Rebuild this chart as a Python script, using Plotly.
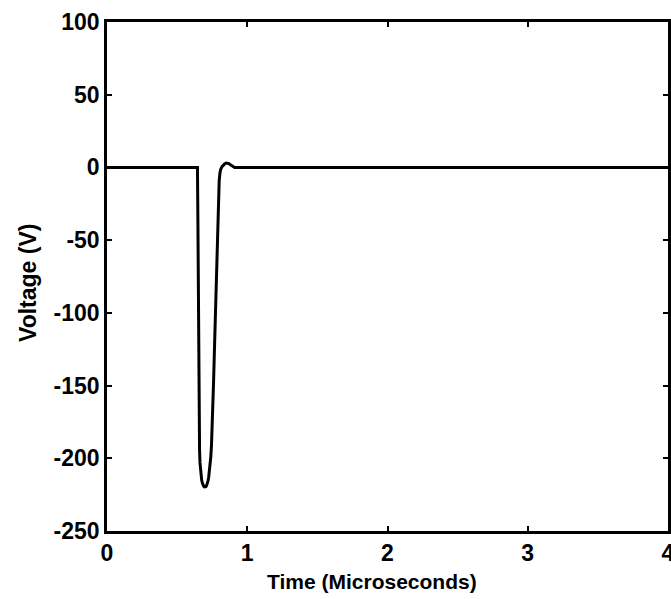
import plotly.graph_objects as go

# Time (microseconds) and voltage (V)
time_us = [0, 0.645, 0.648, 0.651, 0.654, 0.657, 0.66, 0.663, 0.666, 0.67, 0.675,
           0.68, 0.685, 0.69, 0.695, 0.70, 0.705, 0.71, 0.715, 0.72, 0.725,
           0.73, 0.735, 0.74, 0.745, 0.75, 0.755, 0.76, 0.765, 0.77, 0.775,
           0.78, 0.785, 0.79, 0.795, 0.80, 0.805, 0.81, 0.82, 0.83, 0.84,
           0.85, 0.86, 0.87, 0.88, 0.89, 0.90, 0.91, 1.0, 4.0]
voltage = [0, 0, -35, -95, -145, -178, -195, -203, -208, -212, -215,
           -217, -218.5, -219.3, -219.7, -219.8, -219.5, -218.8, -217.5, -215.5, -213,
           -209.5, -205, -199, -191, -179, -164, -147, -129, -110, -90,
           -70, -50, -32, -18, -9, -4, -1.5, 0.5, 1.8, 2.6,
           3, 3, 2.6, 1.8, 1, 0.4, 0, 0, 0]

x_ticks = [0, 1, 2, 3, 4]
y_ticks = [100, 50, 0, -50, -100, -150, -200, -250]

FONT = "Liberation Sans, Arial, sans-serif"

fig = go.Figure()
fig.add_trace(go.Scatter(x=time_us, y=voltage, mode="lines",
                         line=dict(color="black", width=3),
                         showlegend=False))

L, R, T, B = 107, 3, 22, 68
W, H = 671, 599
pw = W - L - R
ph = H - T - B

fig.update_layout(
    width=W, height=H,
    margin=dict(l=L, r=R, t=T, b=B, pad=0, autoexpand=False),
    paper_bgcolor="white", plot_bgcolor="white",
    font=dict(family=FONT, size=21, color="black", weight="bold"),
    xaxis=dict(range=[0, 4], tickvals=x_ticks, ticktext=[str(v) for v in x_ticks],
               showgrid=False, zeroline=False, showline=True, linecolor="black",
               linewidth=2.5, mirror="ticks", ticks="inside", ticklen=5,
               tickwidth=2, tickcolor="black", ticklabeloverflow="allow",
               automargin=False,
               tickfont=dict(size=23, weight="bold")),
    yaxis=dict(range=[-250, 100], tickvals=y_ticks, ticktext=[str(v) for v in y_ticks],
               showgrid=False, zeroline=False, showline=True, linecolor="black",
               linewidth=2.5, mirror="ticks", ticks="inside", ticklen=5,
               tickwidth=2, tickcolor="black", automargin=False,
               tickfont=dict(size=23, weight="bold")),
    annotations=[
        dict(text="Time (Microseconds)", xref="paper", yref="paper",
             x=(372 - L) / pw, y=(H - B - 582) / ph, xanchor="center",
             yanchor="middle", showarrow=False,
             font=dict(size=21, weight="bold")),
        dict(text="Voltage (V)", xref="paper", yref="paper",
             x=(28 - L) / pw, y=(H - B - 283) / ph, xanchor="center",
             yanchor="middle", showarrow=False, textangle=-90,
             font=dict(size=23, weight="bold")),
    ],
)

fig.write_html("out.html")
